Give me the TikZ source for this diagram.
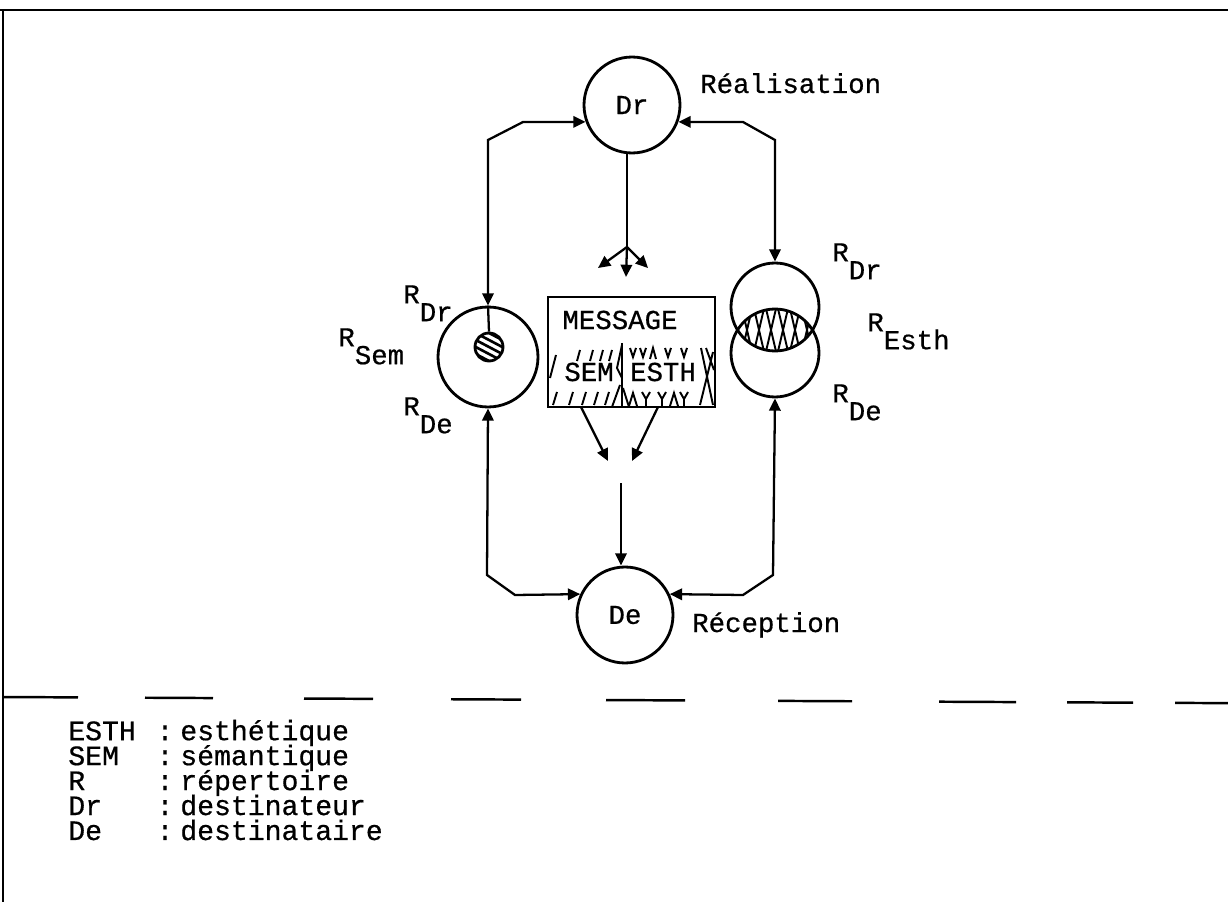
\documentclass[tikz,border=0pt]{standalone}
\usepackage{fontspec}
\newfontfamily\typew[FakeBold=0.6]{Liberation Mono}
\usetikzlibrary{arrows.meta, positioning}

% R avec indice decale
\newcommand{\Rsub}[1]{R\raisebox{-0.65em}{#1}}
% interligne serre de la legende
\newcommand{\legfont}{\typew\fontsize{16}{14.2}\selectfont\lineskiplimit=-20pt\relax}
\newcommand{\firstline}{\rule{0pt}{13pt}}

\tikzset{
  disc/.style={draw, circle, line width=1.6pt, inner sep=0pt},
  link/.style={line width=1.3pt},
  tip/.style={-{Triangle[length=7pt,width=6.5pt]}},
  both/.style={{Triangle[length=7pt,width=6.5pt]}-{Triangle[length=7pt,width=6.5pt]}},
  lbl/.style={anchor=north west, inner sep=0pt},
  hatch/.style={line width=1.1pt},
  legend/.style={anchor=north west, align=left, inner sep=0pt, font=\legfont},
}

\begin{document}
\begin{tikzpicture}[x=0.02cm, y=-0.02cm, font=\typew\fontsize{15.6}{17}\selectfont]
    \useasboundingbox (0,0) rectangle (1228,902);

    % cadre
    \draw[line width=1.6pt] (0,10) -- (1228,10);
    \draw[line width=1.2pt] (3,10) -- (3,902);

    % cercles
    \node[disc, minimum size=1.92cm] (dr) at (632,105) {Dr};
    \node[disc, minimum size=1.92cm] (de) at (625,615) {De};
    \node[disc, minimum size=2cm] (lsem) at (488,357) {};
    \node[disc, minimum size=0.56cm] (ball) at (489,347) {};
    \node[disc, minimum size=1.76cm] (rup) at (775,307) {};
    \node[disc, minimum size=1.76cm] (rlo) at (775,353) {};

    \node[anchor=base west] (real) at (694,93) {Réalisation};
    \node[anchor=base west] (recep) at (686,632) {Réception};

    % boule hachuree
    \begin{scope}
        \clip (489,347) circle (14);
        \foreach \d in {-28,-21,...,28}
            \draw[line width=1.5pt] (470,347+\d-10) -- (508,347+\d+10);
    \end{scope}
    \draw[link] (lsem.north) -- (ball.north);

    % lentille
    \begin{scope}
        \clip (775,307) circle (44);
        \clip (775,353) circle (44);
        \foreach \x in {716,728,...,836} {
            \draw[hatch] (\x,300) -- (\x+14,360);
            \draw[hatch] (\x+14,300) -- (\x,360);
        }
    \end{scope}

    % message
    \node[draw, line width=1.4pt, minimum width=3.34cm, minimum height=2.2cm, inner sep=0pt] (msg) at (631.5,352) {};
    \node (mtitle) at (620,320) {MESSAGE};
    \node (sem) at (589,372) {SEM};
    \node (esth) at (663,372) {ESTH};
    \draw[link] (622,343) -- (622,407);
    \draw[hatch] (622,345) -- (617,368) -- (622,378);
    \draw[hatch] (612,407) -- (620,385);
    \draw[hatch] (629,407) -- (623,388);
    \draw[hatch] (550,378) -- (556,355);
    \foreach \x in {577,590,600,609}
        \draw[hatch] (\x,361) -- (\x+3,350);
    \foreach \x in {553,569,582,594,605}
        \draw[hatch] (\x,405) -- (\x+4,392);
    \foreach \x in {633,643,668,684}
        \draw[hatch] (\x-3,348) -- (\x,357) -- (\x+3,348);
    \draw[hatch] (650,359) -- (653,348) -- (656,359);
    \foreach \x in {646,662,684}
        \draw[hatch] (\x-4,392) -- (\x,399) -- (\x+4,392) (\x,399) -- (\x,406);
    \foreach \x in {633,674}
        \draw[hatch] (\x-4,406) -- (\x,393) -- (\x+4,406);
    \draw[hatch] (701,348) -- (713,405) (713,352) -- (700,405) (706,348) -- (714,370);

    % fleches du haut
    \coordinate (fork) at (627,247);
    \draw[link] (dr.south -| fork) -- (fork);
    \coordinate (fl) at (598,268);
    \coordinate (fm) at (626,277);
    \coordinate (fr) at (648,268);
    \draw[link,tip] (fork) -- (fl);
    \draw[link,tip] (fork) -- (fm);
    \draw[link,tip] (fork) -- (fr);

    % fleches du message
    \coordinate (ms1) at (581,407);
    \coordinate (ms2) at (658,407);
    \coordinate (me1) at (608,461);
    \coordinate (me2) at (632,461);
    \draw[link,tip] (ms1) -- (me1);
    \draw[link,tip] (ms2) -- (me2);
    \coordinate (mid) at (621,483);
    \draw[link,tip] (mid) -- (mid |- de.north);

    % liaisons laterales
    \draw[link,both] (lsem.north) -- (488,140) -- (523,122) -- (dr.200);
    \draw[link,both] (rup.north) -- (775,140) -- (743,122) -- (dr.-20);
    \draw[link,both] (lsem.south) -- (487,575) -- (515,595) -- (de.155);
    \draw[link,both] (rlo.south) -- (773,575) -- (743,595) -- (de.25);

    % etiquettes R
    \node[lbl] (rdrl) at (403,285) {\Rsub{Dr}};
    \node[lbl] (rsem) at (338,328) {\Rsub{Sem}};
    \node[lbl] (rdel) at (403,397) {\Rsub{De}};
    \node[lbl] (rdrr) at (832,243) {\Rsub{Dr}};
    \node[lbl] (resth) at (867,313) {\Rsub{Esth}};
    \node[lbl] (rder) at (832,384) {\Rsub{De}};

    % separation
    \foreach \a/\b in {3/78, 145/213, 304/373, 451/521, 606/685, 778/852, 939/1016, 1067/1133, 1175/1228}
        \draw[line width=1.4pt] (\a,697+0.005*\a) -- (\b,697+0.005*\b);

    % legende
    \node[legend] (keys) at (68,717) {\firstline ESTH\\SEM\\R\\Dr\\De};
    \node[legend, anchor=north, align=center] (colons) at (165,717) {\firstline:\\:\\:\\:\\:};
    \node[legend] (means) at (180,717) {\firstline esthétique\\sémantique\\répertoire\\destinateur\\destinataire};
\end{tikzpicture}
\end{document}
